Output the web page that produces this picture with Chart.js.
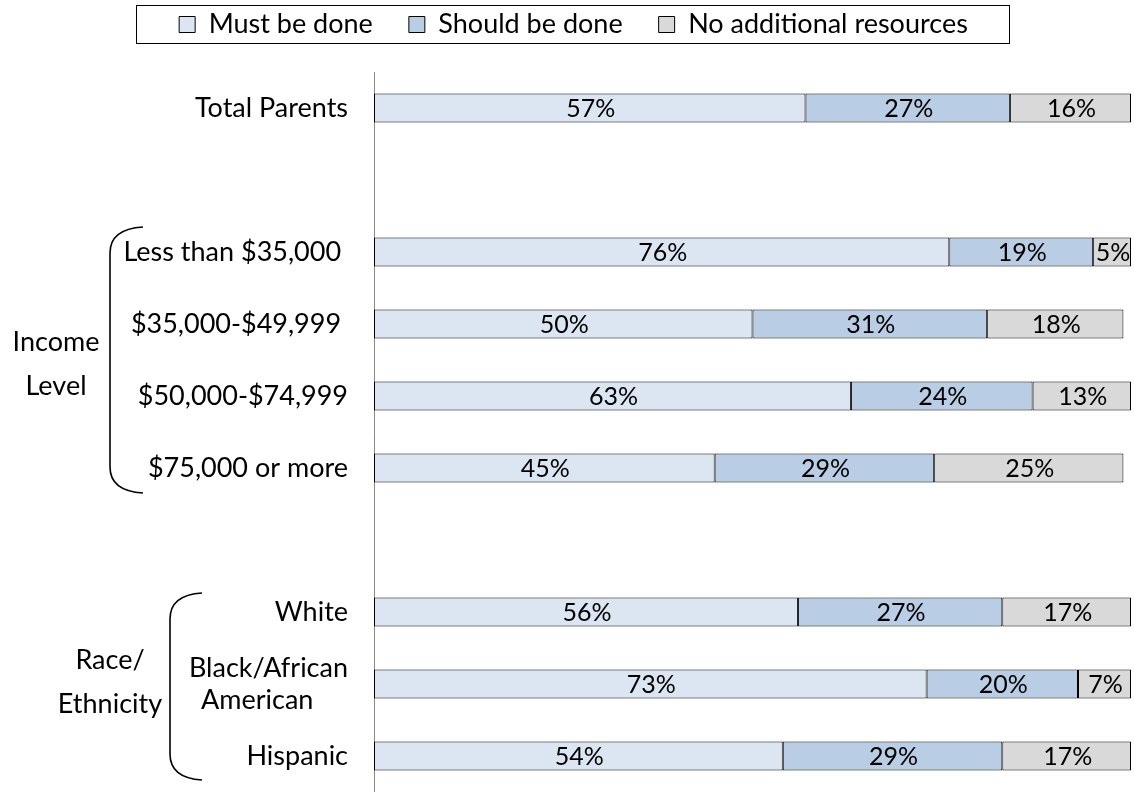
<!DOCTYPE html>
<html>
<head>
<meta charset="utf-8">
<script src="https://cdn.jsdelivr.net/npm/chart.js@4"></script>
<style>
html,body{margin:0;padding:0;background:#fff;}
#wrap{width:1134px;height:792px;}
</style>
</head>
<body>
<div id="wrap"><canvas id="chart"></canvas></div>
<script>
// rows of the chart, blank strings are spacer rows
const categories = ['Total Parents', '', 'Less than $35,000 ', '$35,000-$49,999 ', '$50,000-$74,999', '$75,000 or more', '', 'White', ['Black/African', 'American     '], 'Hispanic'];
const mustBeDone = [57, null, 76, 50, 63, 45, null, 56, 73, 54];
const shouldBeDone = [27, null, 19, 31, 24, 29, null, 27, 20, 29];
const noAdditional = [16, null, 5, 18, 13, 25, null, 17, 7, 17];
// group labels on the left, with first/last row index they span
const groups = [
  {lines: ['Income', 'Level'], from: 2, to: 5, textX: 56, textShift: 4, braceX: 110, tipX: 143, padTop: 25, padBottom: 25},
  {lines: ['Race/', 'Ethnicity'], from: 7, to: 9, textX: 110, textShift: -4, braceX: 170, tipX: 202, padTop: 19, padBottom: 24}
];

const FONT = 'Lato, "Noto Sans", sans-serif';
const TOP_PAD = -25;

// draws the value inside each bar segment
const barLabels = {
  id: 'barLabels',
  afterDatasetsDraw(chart) {
    const ctx = chart.ctx;
    ctx.save();
    ctx.font = '25px ' + FONT;
    ctx.fillStyle = '#000';
    ctx.textAlign = 'center';
    ctx.textBaseline = 'middle';
    chart.data.datasets.forEach((ds, i) => {
      chart.getDatasetMeta(i).data.forEach((bar, j) => {
        const v = ds.data[j];
        if (v == null) return;
        const p = bar.getProps(['x', 'y', 'base'], true);
        ctx.fillText(v + '%', (p.x + p.base) / 2 + 1, p.y + 1);
      });
    });
    ctx.restore();
  }
};

// box round the legend, braces and group names
const extras = {
  id: 'extras',
  afterInit(chart) {
    const lg = chart.legend;
    const f = lg.fit.bind(lg);
    // plot area should start at y=72
    lg.fit = function () { f(); this.height = 72 - TOP_PAD; };
  },
  afterDraw(chart) {
    const ctx = chart.ctx;
    const lg = chart.legend;
    ctx.save();
    if (lg && lg.legendHitBoxes && lg.legendHitBoxes.length) {
      const hb = lg.legendHitBoxes;
      const l = Math.min(...hb.map(h => h.left)) - 43;
      const r = Math.max(...hb.map(h => h.left + h.width)) + 41;
      const t = hb[0].top - 6;
      const b = hb[0].top + hb[0].height + 5;
      ctx.strokeStyle = '#000';
      ctx.lineWidth = 1;
      ctx.strokeRect(Math.round(l) + 0.5, Math.round(t) + 0.5, Math.round(r - l), Math.round(b - t));
    }
    const y = chart.scales.y;
    ctx.strokeStyle = '#000';
    ctx.lineWidth = 1.6;
    ctx.fillStyle = '#000';
    ctx.font = '27px ' + FONT;
    ctx.textAlign = 'center';
    ctx.textBaseline = 'middle';
    groups.forEach(g => {
      const top = y.getPixelForValue(g.from) - g.padTop;
      const bot = y.getPixelForValue(g.to) + g.padBottom;
      const r = 26;
      ctx.beginPath();
      ctx.moveTo(g.tipX, top);
      ctx.quadraticCurveTo(g.braceX, top + 2, g.braceX, top + r);
      ctx.lineTo(g.braceX, bot - r);
      ctx.quadraticCurveTo(g.braceX, bot - 2, g.tipX, bot);
      ctx.stroke();
      const mid = (top + bot) / 2 + g.textShift;
      ctx.fillText(g.lines[0], g.textX, mid - 22);
      ctx.fillText(g.lines[1], g.textX, mid + 22);
    });
    ctx.restore();
  }
};

new Chart(document.getElementById('chart'), {
  type: 'bar',
  data: {
    labels: categories,
    datasets: [
      {label: 'Must be done', data: mustBeDone, backgroundColor: '#dce6f2', borderColor: '#000', borderWidth: 1, borderSkipped: false},
      {label: 'Should be done', data: shouldBeDone, backgroundColor: '#b9cde5', borderColor: '#000', borderWidth: 1, borderSkipped: false},
      {label: 'No additional resources', data: noAdditional, backgroundColor: '#d9d9d9', borderColor: '#000', borderWidth: 1, borderSkipped: false}
    ]
  },
  options: {
    indexAxis: 'y',
    responsive: true,
    maintainAspectRatio: false,
    animation: false,
    datasets: {bar: {barPercentage: 0.4, categoryPercentage: 1}},
    layout: {padding: {top: TOP_PAD, right: 3, left: 16, bottom: 0}},
    scales: {
      x: {stacked: true, display: false, min: 0, max: 100},
      y: {
        stacked: true,
        grid: {display: false, drawTicks: false},
        border: {display: true, color: '#868686', width: 1},
        ticks: {color: '#000', font: {family: FONT, size: 27}, padding: 26, autoSkip: false},
        afterFit(scale) {
          scale.width = 358;
          scale.paddingTop = 0;
          scale.paddingBottom = 0;
        }
      }
    },
    plugins: {
      legend: {
        position: 'top',
        labels: {color: '#000', font: {family: FONT, size: 27}, boxWidth: 16, boxHeight: 16, padding: 36}
      },
      tooltip: {enabled: false}
    }
  },
  plugins: [barLabels, extras]
});
</script>
</body>
</html>
